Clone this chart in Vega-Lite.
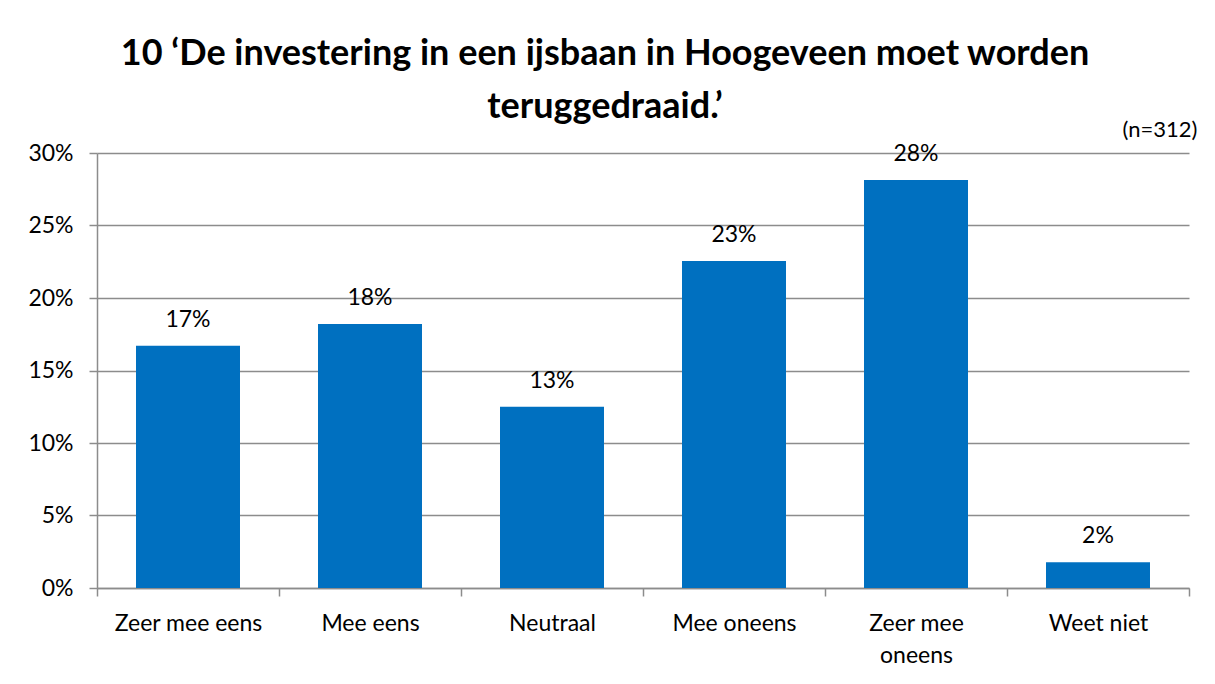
{
  "$schema": "https://vega.github.io/schema/vega-lite/v6.json",
  "autosize": "none",
  "width": 1092,
  "height": 435,
  "padding": {"left": 97, "top": 153, "right": 26, "bottom": 96},
  "background": "white",
  "title": {
    "text": ["10 ‘De investering in een ijsbaan in Hoogeveen moet worden", "teruggedraaid.’"],
    "anchor": "middle",
    "dx": -38,
    "offset": -8,
    "font": "Lato",
    "fontSize": 36,
    "fontWeight": "bold",
    "color": "#000000",
    "lineHeight": 53
  },
  "data": {
    "values": [
      {"categorie": "Zeer mee eens", "aandeel": 0.167},
      {"categorie": "Mee eens", "aandeel": 0.182},
      {"categorie": "Neutraal", "aandeel": 0.125},
      {"categorie": "Mee oneens", "aandeel": 0.2255},
      {"categorie": "Zeer mee oneens", "aandeel": 0.2814},
      {"categorie": "Weet niet", "aandeel": 0.0177}
    ]
  },
  "encoding": {
    "x": {
      "field": "categorie",
      "type": "nominal",
      "sort": null,
      "scale": {"paddingInner": 0, "paddingOuter": 0}
    },
    "y": {
      "field": "aandeel",
      "type": "quantitative",
      "scale": {"domain": [0, 0.3], "nice": false}
    }
  },
  "layer": [
    {
      "mark": {"type": "bar", "color": "#0070C0", "width": {"band": 0.5714}},
      "encoding": {
        "x": {
          "field": "categorie",
          "type": "nominal",
          "sort": null,
          "axis": {
            "orient": "bottom",
            "title": null,
            "labelAngle": 0,
            "tickBand": "extent",
            "ticks": true,
            "tickSize": 8,
            "tickColor": "#8C8C8C",
            "tickWidth": 1.5,
            "domainColor": "#8C8C8C",
            "domainWidth": 1.5,
            "labelFont": "Lato",
            "labelFontSize": 23,
            "labelColor": "#000000",
            "labelPadding": 16,
            "labelBaseline": "top",
            "labelLineHeight": 32,
            "labelExpr": "datum.value == 'Zeer mee oneens' ? ['Zeer mee', 'oneens'] : datum.value"
          }
        },
        "y": {
          "field": "aandeel",
          "type": "quantitative",
          "axis": {
            "title": null,
            "values": [0, 0.05, 0.1, 0.15, 0.2, 0.25, 0.3],
            "format": ".0%",
            "grid": true,
            "gridColor": "#8C8C8C",
            "gridWidth": 1.5,
            "domainColor": "#8C8C8C",
            "domainWidth": 1.5,
            "tickColor": "#8C8C8C",
            "tickWidth": 1.5,
            "tickSize": 8,
            "labelFont": "Lato",
            "labelFontSize": 23,
            "labelColor": "#000000",
            "labelPadding": 16
          }
        }
      }
    },
    {
      "mark": {
        "type": "text",
        "font": "Lato",
        "fontSize": 23,
        "color": "#000000",
        "baseline": "alphabetic",
        "dy": -19
      },
      "encoding": {
        "x": {
          "field": "categorie",
          "type": "nominal",
          "sort": null,
          "axis": {
            "orient": "top",
            "title": "(n=312)",
            "titleAnchor": "end",
            "titleAlign": "right",
            "titleX": 1100,
            "titleFont": "Lato",
            "titleFontSize": 22,
            "titleFontWeight": "normal",
            "titleColor": "#000000",
            "titlePadding": 12,
            "labels": false,
            "ticks": false,
            "domain": false
          }
        },
        "text": {"field": "aandeel", "type": "quantitative", "format": ".0%"}
      }
    }
  ],
  "config": {
    "view": {"stroke": null},
    "axis": {"gridColor": "#8C8C8C"}
  }
}
